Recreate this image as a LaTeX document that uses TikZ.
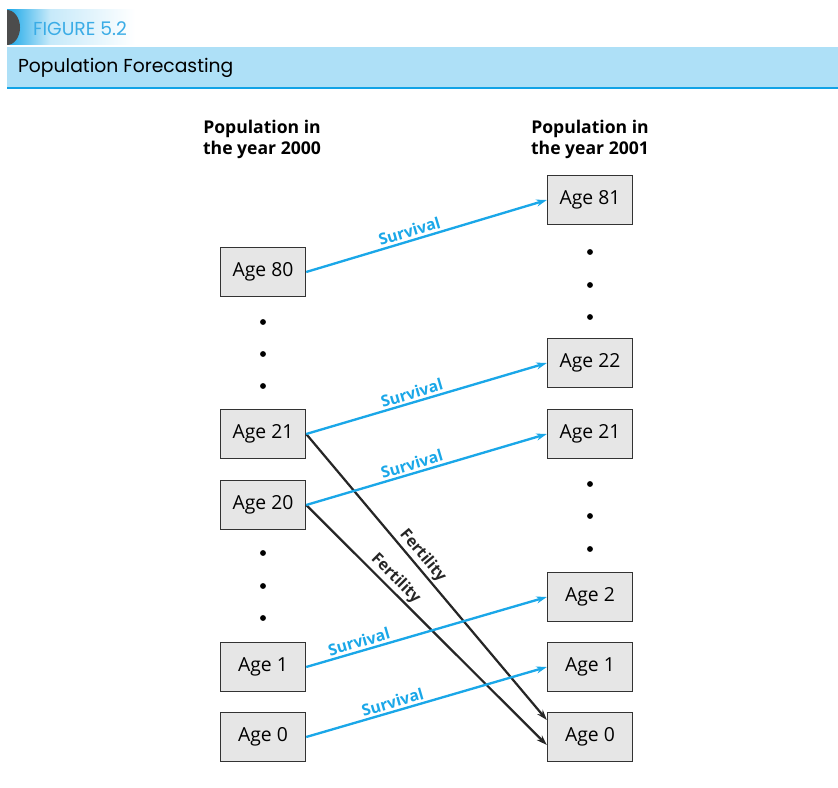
\documentclass[tikz,border=0pt]{standalone}
\usepackage{fontspec}
\setmainfont{Open Sans}
\newfontfamily\titlefont{Poppins}
\usepackage{xcolor}
\definecolor{survblue}{HTML}{1AA7E8}
\definecolor{bandblue}{HTML}{AEE0F7}
\definecolor{ruleblue}{HTML}{12A3E6}
\definecolor{figblue}{HTML}{3AACE6}
\definecolor{boxgray}{HTML}{E6E6E6}
\usetikzlibrary{arrows.meta}

\begin{document}
\begin{tikzpicture}[
    x=0.03cm, y=-0.03cm,
    agebox/.style={draw=black!80, line width=1.2pt, fill=boxgray, minimum width=2.55cm, minimum height=1.47cm, align=center, font=\fontsize{16.5}{19}\selectfont},
    head/.style={align=center, font=\fontsize{15}{18}\selectfont\bfseries},
    dot/.style={circle, fill=black, inner sep=0pt, minimum size=5pt},
    surv/.style={-{Stealth[length=9pt,width=6pt]}, line width=2pt, survblue},
    fert/.style={-{Stealth[length=9pt,width=6pt]}, line width=1.9pt, black!85},
    slbl/.style={sloped, above, font=\fontsize{13.5}{15}\selectfont\bfseries, survblue, inner sep=2pt},
    flbl/.style={sloped, above, font=\fontsize{13.5}{15}\selectfont\bfseries, black!85, inner sep=1.5pt}
]
\useasboundingbox (0,0) rectangle (838,788);

% Header
\shade[left color=survblue, right color=bandblue!70] (7,10) rectangle (50,45);
\shade[left color=bandblue!70, right color=white] (50,10) rectangle (135,45);
\fill[black!70] (7,10) arc[start angle=90, end angle=-90, x radius=13, y radius=-17.5] -- cycle;
\node[anchor=west, font=\titlefont\fontsize{16}{18}\selectfont, figblue] (fig) at (29,29) {FIGURE 5.2};
\fill[bandblue] (7,47) rectangle (838,87);
\draw[ruleblue, line width=2.4pt] (7,88) -- (838,88);
\node[anchor=west, font=\titlefont\fontsize{16}{18}\selectfont] (title) at (14,68) {Population Forecasting};

% Column headings
\node[head] (h2000) at (262,139) {Population in\\the year 2000};
\node[head] (h2001) at (590,139) {Population in\\the year 2001};

% Year 2000
\node[agebox] (l80) at (263,272) {Age 80};
\node[agebox] (l21) at (263,434) {Age 21};
\node[agebox] (l20) at (263,505) {Age 20};
\node[agebox] (l1) at (263,667) {Age 1};
\node[agebox] (l0) at (263,737) {Age 0};

% Year 2001
\node[agebox] (r81) at (590,200) {Age 81};
\node[agebox] (r22) at (590,363) {Age 22};
\node[agebox] (r21) at (590,434) {Age 21};
\node[agebox] (r2) at (590,597) {Age 2};
\node[agebox] (r1) at (590,667) {Age 1};
\node[agebox] (r0) at (590,737) {Age 0};

% Dots
\foreach \y [count=\i] in {322,354,386} \node[dot] (lda\i) at (263,\y) {};
\foreach \y [count=\i] in {553,586,618} \node[dot] (ldb\i) at (263,\y) {};
\foreach \y [count=\i] in {252,285,317} \node[dot] (rda\i) at (590,\y) {};
\foreach \y [count=\i] in {484,516,549} \node[dot] (rdb\i) at (590,\y) {};

% Fertility
\draw[fert] (l21.east) -- node[flbl, pos=0.45] {Fertility} ([yshift=0.51cm]r0.west);
\draw[fert] (l20.east) -- node[flbl, pos=0.34] {Fertility} ([yshift=-0.24cm]r0.west);

% Survival
\draw[surv] (l80.east) -- node[slbl, pos=0.44] {Survival} (r81.west);
\draw[surv] (l21.east) -- node[slbl, pos=0.45] {Survival} (r22.west);
\draw[surv] (l20.east) -- node[slbl, pos=0.45] {Survival} (r21.west);
\draw[surv] (l1.east) -- node[slbl, pos=0.23] {Survival} (r2.west);
\draw[surv] (l0.east) -- node[slbl, pos=0.37] {Survival} (r1.west);

\end{tikzpicture}
\end{document}
